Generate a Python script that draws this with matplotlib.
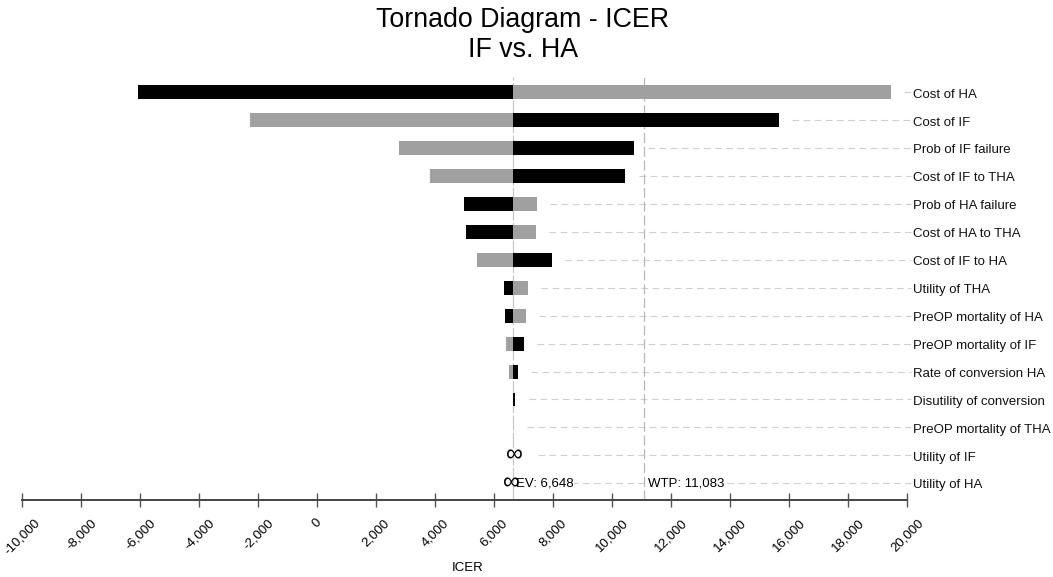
import numpy as np
import matplotlib
matplotlib.use("Agg")
import matplotlib.pyplot as plt

plt.rcParams['font.family'] = ['Liberation Sans', 'DejaVu Sans']

# data
params = ["Cost of HA", "Cost of IF", "Prob of IF failure", "Cost of IF to THA",
          "Prob of HA failure", "Cost of HA to THA", "Cost of IF to HA",
          "Utility of THA", "PreOP mortality of HA", "PreOP mortality of IF",
          "Rate of conversion HA", "Disutility of conversion",
          "PreOP mortality of THA", "Utility of IF", "Utility of HA"]
left_ends = [-6064, -2270, 2764, 3834, 4993, 5041, 5412,
             6324, 6368, 6402, 6514, 6648, 6640, np.nan, np.nan]
right_ends = [19450, 15659, 10760, 10456, 7449, 7416, 7956,
              7145, 7088, 7010, 6818, 6720, 6660, np.nan, np.nan]
# which bar side is black ("L" = left side black, "R" = right side black)
black_side = ["L", "R", "R", "R", "L", "L", "R",
              "L", "L", "R", "R", "R", "R", None, None]
ev = 6648
wtp = 11083
xticks = np.arange(-10000, 20001, 2000)

BLACK = "#000000"
GRAY = "#a0a0a0"

fig = plt.figure(figsize=(10.53, 5.77), dpi=100)
ax = fig.add_axes([22 / 1053, 1 - 500 / 577, 885 / 1053, 423 / 577])
ax.set_xlim(-10000, 20000)
ax.set_ylim(14.6, -0.55)

n = len(params)
inf_x = [ev + 40, ev - 60]
k = 0
for i in range(n):
    lo, hi = left_ends[i], right_ends[i]
    if np.isnan(lo):
        # infinite result
        ax.text(inf_x[k], i, "\u221e", fontsize=17, ha="center", va="center", zorder=5)
        k += 1
        start = ev + 850
    else:
        lc = BLACK if black_side[i] == "L" else GRAY
        rc = GRAY if black_side[i] == "L" else BLACK
        ax.barh(i, ev - lo, left=lo, height=0.5, color=lc, zorder=3)
        ax.barh(i, hi - ev, left=ev, height=0.5, color=rc, zorder=3)
        start = max(hi, ev) + 450
    ax.plot([start, 20150], [i, i], ls=(0, (6, 4)), color="#cfcfcf", lw=0.8,
            clip_on=False, zorder=1)
    ax.text(20200, i + 0.08, params[i], fontsize=9.5, ha="left", va="center",
            color="#111111")

ax.axvline(ev, color="#c8c8c8", lw=0.9, ls=(0, (12, 2)), zorder=2)
ax.axvline(wtp, color="#b8b8b8", lw=0.9, ls=(0, (8, 3)), zorder=2)
ax.text(ev + 100, 14.0, "EV: 6,648", fontsize=9.5, ha="left", va="center",
        bbox=dict(facecolor="white", edgecolor="none", pad=0.5), zorder=4)
ax.text(wtp + 150, 14.0, "WTP: 11,083", fontsize=9.5, ha="left", va="center",
        bbox=dict(facecolor="white", edgecolor="none", pad=0.5), zorder=4)

for s in ["top", "right", "left"]:
    ax.spines[s].set_visible(False)
ax.spines["bottom"].set_color("#444444")
ax.spines["bottom"].set_linewidth(1.4)
ax.set_yticks([])
ax.set_xticks(xticks)
ax.set_xticklabels([f"{v:,}" for v in xticks], rotation=45, ha="center",
                   fontsize=9.5)
ax.tick_params(axis="x", direction="inout", length=10, width=1, color="#555555", pad=7)
ax.set_xlabel("ICER", fontsize=9.5)
ax.xaxis.set_label_coords(0.504, -0.147)

fig.text(523 / 1053, 1 - 20 / 577, "Tornado Diagram - ICER", fontsize=19.3,
         ha="center", va="center")
fig.text(523 / 1053, 1 - 50 / 577, "IF vs. HA", fontsize=19.3, ha="center", va="center")

fig.savefig("out.png", dpi=100)
